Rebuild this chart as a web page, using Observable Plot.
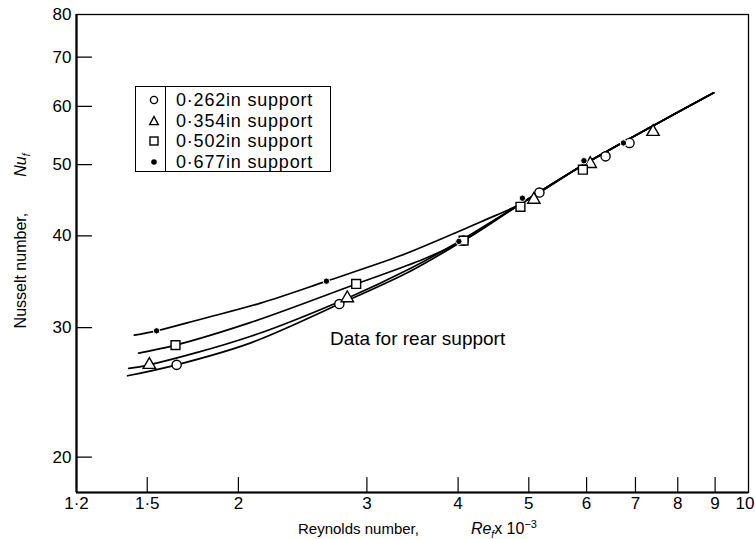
<!DOCTYPE html>
<html><head><meta charset="utf-8">
<script src="https://cdn.jsdelivr.net/npm/d3@7"></script>
<script src="https://cdn.jsdelivr.net/npm/@observablehq/plot@0.6"></script>
<style>
body{margin:0;background:#fff;}
#wrap{position:relative;width:755px;height:539px;font-family:"Liberation Sans",Arial,sans-serif;color:#000;}
.lab{position:absolute;white-space:nowrap;font-size:15px;}
#legend{position:absolute;left:135px;top:86px;width:196px;height:86px;border:1.5px solid #000;box-sizing:border-box;}
#legend .div{position:absolute;left:29px;top:0;bottom:0;border-left:1.5px solid #000;}
#legend .row{position:absolute;left:0;height:20px;width:190px;}
#legend svg{position:absolute;left:12px;top:4px;}
#legend .t{position:absolute;left:40px;top:0;font-size:18px;line-height:20px;letter-spacing:0.8px;white-space:nowrap;}
</style></head><body><div id="wrap"></div>
<script>
// ---- data ----
const xTicks = [1.2, 1.5, 2, 3, 4, 5, 6, 7, 8, 9, 10];
const xTickLabels = ["1·2", "1·5", "2", "3", "4", "5", "6", "7", "8", "9", "10"];
const yTicks = [20, 30, 40, 50, 60, 70, 80];
const seriesNames = ["0·262in support", "0·354in support", "0·502in support", "0·677in support"];
const seriesSymbols = ["circle", "triangle", "square", "dot"];

// measured points (Re x 10^-3, Nu)
const re262 = [1.646, 2.75, 4.07, 5.17, 6.37, 6.87];
const nu262 = [26.7, 32.3, 39.4, 45.8, 51.3, 53.5];
const re354 = [1.51, 2.82, 5.08, 6.07, 7.4];
const nu354 = [26.7, 32.9, 44.8, 50.1, 55.4];
const re502 = [1.64, 2.90, 4.07, 4.87, 5.93];
const nu502 = [28.4, 34.4, 39.4, 43.8, 49.2];
const re677 = [1.545, 2.64, 4.01, 4.90, 5.95, 6.74];
const nu677 = [29.7, 34.7, 39.3, 45.0, 50.6, 53.5];

// fitted curves
const cRe262 = [1.41, 1.646, 2.08, 2.75, 3.44, 4.03, 4.87, 5.95, 7.34, 8.96];
const cNu262 = [25.8, 26.7, 28.6, 32.3, 35.8, 39.2, 44.2, 50.0, 56.2, 62.6];
const cRe354 = [1.415, 1.51, 2.08, 2.82, 3.44, 3.91, 4.87, 5.95, 7.34, 8.96];
const cNu354 = [26.4, 26.7, 29.2, 32.9, 36.1, 38.7, 44.2, 50.0, 56.2, 62.6];
const cRe502 = [1.46, 1.64, 2.08, 2.90, 3.59, 4.07, 4.87, 5.95, 7.34, 8.96];
const cNu502 = [27.7, 28.4, 30.5, 34.4, 37.2, 39.4, 44.2, 50.0, 56.2, 62.6];
const cRe677 = [1.44, 1.545, 1.776, 2.145, 2.64, 3.34, 3.79, 4.30, 4.87, 5.95, 7.34, 8.96];
const cNu677 = [29.3, 29.7, 30.8, 32.4, 34.7, 37.6, 39.6, 41.8, 44.2, 50.0, 56.2, 62.6];

const xDomain = [1.2, 10];
const yDomain = [17.9, 80];
const annotation = [{x: 3.52, y: 29.0, text: "Data for rear support"}];

// ---- build ----
const pts = (xs, ys) => xs.map((x, i) => ({x, y: ys[i]}));
const curves = [pts(cRe262, cNu262), pts(cRe354, cNu354), pts(cRe502, cNu502), pts(cRe677, cNu677)];
const tickShape = {draw(ctx, l) { ctx.moveTo(0, 0); ctx.lineTo(0, -l); }};
const font = "'Liberation Sans', Arial, sans-serif";

const chart = Plot.plot({
  width: 755, height: 539,
  marginLeft: 76, marginRight: 7, marginTop: 14, marginBottom: 47,
  x: {type: "log", domain: xDomain},
  y: {type: "log", domain: yDomain},
  style: {fontFamily: font, fontSize: "17px", color: "#000", background: "#fff", overflow: "visible"},
  marks: [
    Plot.frame({stroke: "#000", strokeWidth: 1.3}),
    Plot.ruleX([xDomain[0]], {stroke: "#000", strokeWidth: 2.2}),
    Plot.ruleY([yDomain[0]], {stroke: "#000", strokeWidth: 2.2}),
    Plot.axisX({ticks: xTicks.slice(0, -1), tickFormat: d => xTickLabels[xTicks.indexOf(d)], tickSize: 0, tickPadding: 4, label: null, fontSize: 17}),
    Plot.text([xTicks[xTicks.length - 1]], {x: d => d, y: yDomain[0], text: d => xTickLabels[xTicks.indexOf(d)], frameAnchor: "bottom", lineAnchor: "top", dy: 4, dx: 6, textAnchor: "end", fontSize: 17}),
    Plot.axisY({ticks: yTicks, tickFormat: d => String(d), tickSize: 0, tickPadding: 5, label: null, fontSize: 17}),
    Plot.vector(xTicks.slice(1, -1), {x: d => d, y: yDomain[0], length: 15, anchor: "start", rotate: 0, shape: tickShape, stroke: "#000", strokeWidth: 1.2}),
    Plot.vector(yTicks.slice(0, -1), {x: xDomain[0], y: d => d, length: 15, anchor: "start", rotate: 90, shape: tickShape, stroke: "#000", strokeWidth: 1.2}),
    ...curves.map(c => Plot.line(c, {x: "x", y: "y", curve: "catmull-rom", stroke: "#000", strokeWidth: 1.7})),
    Plot.dot(pts(re262, nu262), {x: "x", y: "y", symbol: "circle", r: 4.6, fill: "#fff", stroke: "#000", strokeWidth: 1.4}),
    Plot.dot(pts(re354, nu354), {x: "x", y: "y", symbol: "triangle", r: 4.6, fill: "#fff", stroke: "#000", strokeWidth: 1.4}),
    Plot.dot(pts(re502, nu502), {x: "x", y: "y", symbol: "square", r: 5, fill: "#fff", stroke: "#000", strokeWidth: 1.4}),
    Plot.dot(pts(re677, nu677), {x: "x", y: "y", symbol: "circle", r: 3.2, fill: "#000", stroke: "#fff", strokeWidth: 1}),
    Plot.text(annotation, {x: "x", y: "y", text: "text", fontSize: 19, textAnchor: "middle", fill: "#000", style: "letter-spacing:0.3px"})
  ]
});

const wrap = document.getElementById("wrap");
wrap.appendChild(chart);

// axis titles
const yl = document.createElement("div");
yl.className = "lab";
yl.style.fontSize = "16px";
yl.style.left = "22px"; yl.style.top = "241px";
yl.style.transform = "translate(-50%,-50%) rotate(-90deg)";
yl.innerHTML = 'Nusselt number,<span style="display:inline-block;width:36px"></span><i>Nu<sub style="font-size:10px">f</sub></i>';
wrap.appendChild(yl);

const xl = document.createElement("div");
xl.className = "lab";
xl.style.left = "298px"; xl.style.top = "518px";
xl.innerHTML = 'Reynolds number,<span style="display:inline-block;width:52px"></span><span style="font-size:16px"><i>Re<sub style="font-size:10px">f</sub></i>x 10<sup style="font-size:11px">−3</sup></span>';
wrap.appendChild(xl);

// legend
const lg = document.createElement("div");
lg.id = "legend";
lg.innerHTML = '<div class="div"></div>';
const symSvg = {
  circle: '<circle cx="6" cy="6" r="3.6" fill="#fff" stroke="#000" stroke-width="1.4"/>',
  triangle: '<path d="M6,1.5 L10.3,9.6 L1.7,9.6 Z" fill="#fff" stroke="#000" stroke-width="1.4"/>',
  square: '<rect x="2" y="2" width="8" height="8" fill="#fff" stroke="#000" stroke-width="1.4"/>',
  dot: '<circle cx="6" cy="6" r="2.8" fill="#000"/>'
};
seriesNames.forEach((name, i) => {
  const row = document.createElement("div");
  row.className = "row";
  row.style.top = (3 + i * 20.5) + "px";
  row.innerHTML = `<svg width="12" height="12">${symSvg[seriesSymbols[i]]}</svg><span class="t">${name}</span>`;
  lg.appendChild(row);
});
wrap.appendChild(lg);
</script>
</body></html>
